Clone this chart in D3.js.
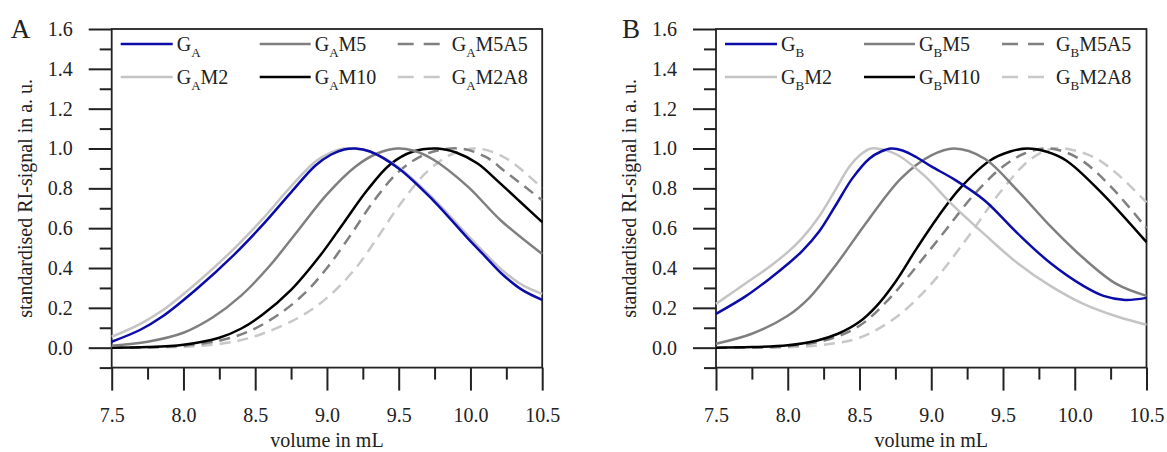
<!DOCTYPE html>
<html>
<head>
<meta charset="utf-8">
<script src="https://cdnjs.cloudflare.com/ajax/libs/d3/7.8.5/d3.min.js"></script>
<style>
	body { margin: 0; background: #fff; }
	svg { display: block; font-family: 'Liberation Serif', 'Times New Roman', 'DejaVu Serif', serif; }
</style>
</head>
<body>
<svg id="chart" width="1167" height="452"></svg>
<script>
// axis ticks
var volumeTicks = [7.5, 8.0, 8.5, 9.0, 9.5, 10.0, 10.5];
var volumeMinor = [7.75, 8.25, 8.75, 9.25, 9.75, 10.25];
var signalTicks = [0.0, 0.2, 0.4, 0.6, 0.8, 1.0, 1.2, 1.4, 1.6];
var signalMinor = [-0.1, 0.1, 0.3, 0.5, 0.7, 0.9, 1.1, 1.3, 1.5];

// legend suffixes, same order as the series arrays below
var suffixes = ['', 'M2', 'M5', 'M10', 'M5A5', 'M2A8'];

// panel A: [volume in mL, standardised signal]
var gA = [[7.5,0.03],[7.7,0.09],[7.85,0.155],[8.1,0.3],[8.35,0.465],[8.55,0.615],[8.75,0.78],[8.92,0.915],[9.03,0.97],[9.12,0.995],[9.2,1.0],[9.3,0.985],[9.5,0.9],[9.74,0.74],[9.98,0.55],[10.1,0.46],[10.22,0.37],[10.36,0.29],[10.5,0.24]];
var gAM2 = [[7.5,0.055],[7.7,0.12],[7.85,0.185],[8.1,0.33],[8.35,0.495],[8.55,0.645],[8.75,0.81],[8.92,0.935],[9.03,0.98],[9.12,1.0],[9.22,0.997],[9.3,0.985],[9.5,0.905],[9.74,0.75],[9.98,0.565],[10.1,0.475],[10.22,0.39],[10.36,0.315],[10.5,0.27]];
var gAM5 = [[7.5,0.01],[7.75,0.03],[8.0,0.075],[8.2,0.15],[8.4,0.26],[8.6,0.41],[8.8,0.59],[9.0,0.77],[9.2,0.91],[9.35,0.975],[9.49,1.0],[9.6,0.99],[9.74,0.945],[9.98,0.81],[10.21,0.64],[10.5,0.47]];
var gAM10 = [[7.5,0.0],[7.75,0.003],[8.0,0.015],[8.25,0.05],[8.4,0.095],[8.55,0.165],[8.75,0.29],[8.95,0.46],[9.12,0.63],[9.28,0.79],[9.44,0.92],[9.6,0.985],[9.77,1.0],[9.9,0.98],[10.05,0.925],[10.2,0.83],[10.35,0.73],[10.5,0.63]];
var gAM5A5 = [[7.5,0.0],[7.8,0.003],[8.0,0.01],[8.25,0.035],[8.45,0.08],[8.65,0.16],[8.84,0.27],[9.0,0.4],[9.16,0.56],[9.33,0.74],[9.51,0.89],[9.7,0.975],[9.92,1.0],[10.1,0.96],[10.25,0.88],[10.5,0.74]];
var gAM2A8 = [[7.5,0.0],[7.9,0.002],[8.1,0.008],[8.35,0.03],[8.55,0.07],[8.8,0.15],[9.0,0.25],[9.19,0.39],[9.35,0.55],[9.51,0.72],[9.7,0.885],[9.88,0.975],[10.05,1.0],[10.25,0.95],[10.5,0.8]];

// panel B
var gB = [[7.5,0.17],[7.7,0.255],[7.88,0.35],[8.0,0.42],[8.1,0.485],[8.22,0.585],[8.33,0.71],[8.45,0.85],[8.57,0.95],[8.65,0.985],[8.72,1.0],[8.8,0.99],[8.9,0.955],[9.0,0.91],[9.16,0.845],[9.37,0.74],[9.6,0.575],[9.83,0.425],[10.06,0.31],[10.2,0.26],[10.35,0.24],[10.5,0.25]];
var gBM2 = [[7.5,0.22],[7.7,0.32],[7.88,0.41],[8.0,0.48],[8.1,0.55],[8.22,0.66],[8.33,0.79],[8.43,0.91],[8.5,0.965],[8.58,1.0],[8.66,0.995],[8.76,0.97],[8.95,0.865],[9.13,0.73],[9.37,0.57],[9.6,0.425],[9.83,0.31],[10.06,0.22],[10.3,0.155],[10.5,0.115]];
var gBM5 = [[7.5,0.02],[7.75,0.07],[8.0,0.16],[8.15,0.25],[8.33,0.41],[8.56,0.64],[8.79,0.85],[9.0,0.965],[9.16,1.0],[9.37,0.95],[9.6,0.79],[9.83,0.61],[10.06,0.45],[10.29,0.32],[10.5,0.26]];
var gBM10 = [[7.5,0.0],[7.75,0.003],[8.0,0.012],[8.2,0.035],[8.35,0.07],[8.5,0.13],[8.62,0.21],[8.75,0.33],[8.9,0.5],[9.05,0.66],[9.2,0.8],[9.41,0.94],[9.55,0.985],[9.67,1.0],[9.8,0.985],[9.94,0.94],[10.17,0.79],[10.5,0.53]];
var gBM5A5 = [[7.5,0.0],[7.9,0.004],[8.1,0.015],[8.3,0.045],[8.5,0.11],[8.7,0.24],[8.9,0.41],[9.1,0.59],[9.3,0.77],[9.5,0.91],[9.65,0.975],[9.78,1.0],[9.9,0.99],[10.05,0.94],[10.25,0.81],[10.5,0.6]];
var gBM2A8 = [[7.5,0.0],[8.0,0.002],[8.25,0.015],[8.5,0.05],[8.75,0.15],[9.0,0.32],[9.25,0.55],[9.48,0.78],[9.69,0.945],[9.85,1.0],[10.0,0.99],[10.15,0.95],[10.3,0.87],[10.5,0.73]];

var styles = [
	{color: '#0c0ca8', dash: null},
	{color: '#c4c4c4', dash: null},
	{color: '#7f7f7f', dash: null},
	{color: '#000000', dash: null},
	{color: '#808080', dash: '11,7'},
	{color: '#c8c8c8', dash: '11,7'}
];

function Panel(svg, left, letter, letterX, sub, series) {
	this.svg = svg;
	this.left = left;
	this.width = 430.5;
	this.top = 29;
	this.bottom = 367.6;
	this.letter = letter;
	this.letterX = letterX;
	this.sub = sub;
	this.series = series;
	this.g = svg.append('g');

	this.x = d3.scaleLinear()
		.domain([7.5, 10.5])
		.range([left, left + this.width]);
	this.y = d3.scaleLinear()
		.domain([-0.1, 1.6])
		.range([this.bottom, this.top]);
}

Panel.prototype.drawAxes = function() {
	var g = this.g;

	var yMajor = d3.axisLeft(this.y).tickValues(signalTicks).tickSize(23).tickPadding(16)
		.tickFormat(d3.format('.1f'));
	var yMinor = d3.axisLeft(this.y).tickValues(signalMinor).tickSize(12).tickFormat('');
	var xMajor = d3.axisBottom(this.x).tickValues(volumeTicks).tickSize(23).tickPadding(17)
		.tickFormat(d3.format('.1f'));
	var xMinor = d3.axisBottom(this.x).tickValues(volumeMinor).tickSize(12).tickFormat('');

	[[yMajor, 'translate(' + this.left + ',0)'], [yMinor, 'translate(' + this.left + ',0)'],
	 [xMajor, 'translate(0,' + this.bottom + ')'], [xMinor, 'translate(0,' + this.bottom + ')']]
		.forEach(function(a) {
			var ax = g.append('g').attr('transform', a[1]).call(a[0]);
			ax.attr('font-family', null).attr('font-size', null);
			ax.select('.domain').remove();
			ax.selectAll('line').attr('stroke', '#222').attr('stroke-width', 2);
			ax.selectAll('text')
				.attr('fill', '#222')
				.style('font-size', '20px');
		});

	g.append('rect')
		.attr('x', this.left)
		.attr('y', this.top)
		.attr('width', this.width)
		.attr('height', this.bottom - this.top)
		.attr('fill', 'none')
		.attr('stroke', '#222')
		.attr('stroke-width', 1.8);

	g.append('text')
		.attr('x', this.left + this.width / 2)
		.attr('y', 447)
		.attr('text-anchor', 'middle')
		.attr('fill', '#222')
		.style('font-size', '20px')
		.text('volume in mL');

	g.append('text')
		.attr('transform', 'translate(' + (this.left - 80) + ',' + ((this.top + this.bottom) / 2) + ') rotate(-90)')
		.attr('text-anchor', 'middle')
		.attr('fill', '#222')
		.style('font-size', '20px')
		.text('standardised RI-signal in a. u.');

	g.append('text')
		.attr('x', this.left + this.letterX)
		.attr('y', 38)
		.attr('fill', '#222')
		.style('font-size', '27px')
		.text(this.letter);
};

Panel.prototype.drawCurves = function() {
	var that = this;
	var line = d3.line()
		.x(function(d) {return that.x(d[0])})
		.y(function(d) {return that.y(d[1])})
		.curve(d3.curveCatmullRom.alpha(0.5));

	// light dashed first, blue last on top
	var order = [5, 4, 3, 2, 1, 0];
	this.g.append('g').selectAll('path')
		.data(order)
		.enter().append('path')
			.attr('d', function(i) {return line(that.series[i])})
			.attr('fill', 'none')
			.attr('stroke', function(i) {return styles[i].color})
			.attr('stroke-width', 2.5)
			.attr('stroke-dasharray', function(i) {return styles[i].dash});
};

Panel.prototype.drawLegend = function() {
	var that = this;
	var cols = [[9, 61, 65], [148, 199, 203], [286, 329, 340]];
	var rows = [44, 77];

	var item = this.g.append('g').selectAll('g')
		.data(suffixes)
		.enter().append('g')
			.attr('transform', function(d, i) {
				return 'translate(' + that.left + ',' + rows[i % 2] + ')';
			});

	item.append('line')
		.attr('x1', function(d, i) {return cols[Math.floor(i / 2)][0]})
		.attr('x2', function(d, i) {return cols[Math.floor(i / 2)][1]})
		.attr('stroke', function(d, i) {return styles[i].color})
		.attr('stroke-width', 2.5)
		.attr('stroke-dasharray', function(d, i) {return styles[i].dash ? '16,10' : null});

	var label = item.append('text')
		.attr('x', function(d, i) {return cols[Math.floor(i / 2)][2]})
		.attr('y', 7)
		.attr('fill', '#222')
		.style('font-size', '20px');
	label.append('tspan').text('G');
	label.append('tspan')
		.attr('dy', 6)
		.style('font-size', '13px')
		.text(this.sub);
	label.append('tspan')
		.attr('dy', -6)
		.text(function(d) {return d});
};

var svg = d3.select('#chart');

var panelA = new Panel(svg, 111.7, 'A', -101, 'A', [gA, gAM2, gAM5, gAM10, gAM5A5, gAM2A8]);
panelA.drawAxes();
panelA.drawCurves();
panelA.drawLegend();

var panelB = new Panel(svg, 716, 'B', -94, 'B', [gB, gBM2, gBM5, gBM10, gBM5A5, gBM2A8]);
panelB.drawAxes();
panelB.drawCurves();
panelB.drawLegend();
</script>
</body>
</html>
